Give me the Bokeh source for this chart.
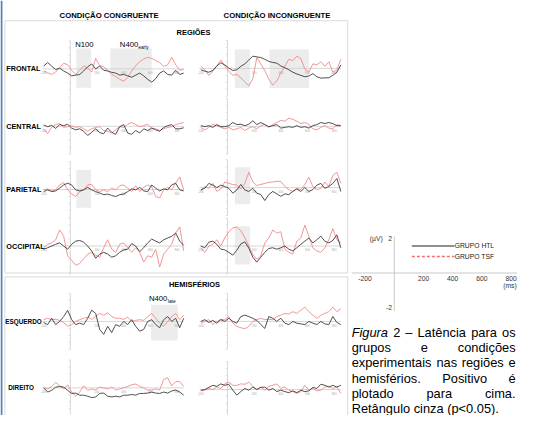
from bokeh.plotting import figure
from bokeh.models import Range1d
from bokeh.core.properties import value
from bokeh.embed import file_html
from bokeh.resources import INLINE

# ---------------- data ----------------
times = [-200, -170, -140, -110, -80, -50, -20, 10, 40, 70, 100, 130, 160, 190, 220, 250, 280, 310,
         340, 370, 400, 430, 460, 490, 520, 550, 580, 610, 640, 670, 700, 730, 760, 790, 820, 850]

frontal_cong_htl = [0.4, 0.9, 0.4, -0.1, 0.1, -0.3, -0.6, -1.0, -0.9, -0.8, -0.3, 0.3, 0.7, 0.0, 0.4, -0.2, -0.3, -0.5,
                    -0.6, -0.9, -0.8, -1.0, -1.2, -0.9, -0.6, -1.0, -1.5, -1.9, -1.4, -0.6, -0.3, -0.8, -0.9, -0.2, -0.8, -0.6]
frontal_cong_tsf = [-0.3, -0.55, -0.8, -0.45, 0.15, 0.8, 0.6, -0.2, -0.8, -0.2, 0.4, 0.15, -0.45, 1.5, 0.45, 0.3, -0.2, -0.8,
                    -1.1, -1.5, -1.75, -1.25, -0.3, 0.45, 1.05, 1.4, 1.65, 1.5, 1.2, 0.9, 0.35, 0.6, 1.65, 0.6, -0.2, -0.1]
frontal_incong_htl = [-0.2, -0.4, -0.55, -0.3, 0.35, 0.8, 0.5, 0.05, -0.3, -0.2, 0.3, 0.65, 1.2, 1.75, 1.65, 1.55, 1.3, 1.0,
                      0.85, 0.75, 0.35, 0.1, -0.2, -0.55, -0.8, -1.0, -1.2, -1.1, -0.75, -1.2, -1.4, -1.35, -1.35, -1.0, -0.55, 0.5]
frontal_incong_tsf = [0.3, -0.2, -1.0, -0.4, 0.35, 1.2, 0.3, -0.4, -1.0, -0.85, -1.35, -1.95, -2.5, -1.5, 1.55, 0.65, -0.3, -1.55,
                      -2.4, -1.8, -0.65, 0.3, 1.3, 1.1, 1.75, 1.4, -0.1, -0.55, 0.65, 0.5, 0.95, 0.3, 0.95, -0.55, -0.2, 1.3]
central_cong_htl = [0.2, -0.05, 0.15, -0.3, 0.25, 0.1, 0.3, -0.25, -0.5, -0.35, -0.7, -1.3, -0.85, -0.35, -0.9, -1.05, -0.25, -0.85,
                    -1.15, -0.05, 0.25, -0.95, -1.15, -0.6, -0.95, -0.35, -0.6, -0.25, -0.5, -0.7, -0.15, 0.1, 0.25, -0.35, -0.35, -0.2]
central_cong_tsf = [-0.35, -1.05, -0.15, 0.25, 0.4, -0.15, -0.05, 0.1, -0.15, -0.05, -0.35, -0.7, -0.35, -0.15, -0.05, -0.6, -0.7, -0.95,
                    -0.5, -0.05, -0.15, 0.3, 0.55, 0.25, -0.05, 0.1, 0.3, -0.25, -0.35, -0.6, -0.35, -0.15, -0.05, 0.25, 0.4, 0.55]
central_incong_htl = [0.1, -0.05, 0.1, -0.15, 0.25, -0.05, -0.05, 0.1, 0.55, 0.25, 0.3, 0.1, 0.3, 0.8, 0.25, 0.55, 0.25, -0.05,
                      0.1, 0.25, -0.25, -0.15, -0.05, -0.15, 0.1, -0.15, -0.05, -0.25, 0.1, 0.25, 0.55, 0.4, 0.55, 0.4, 0.1, 0.1]
central_incong_tsf = [-0.15, -0.5, -0.15, 0.3, 0.1, -0.15, -0.35, -0.15, -0.5, -0.35, -0.15, -0.6, -0.25, -0.05, -0.35, 0.1, 0.3, -0.15,
                      0.25, 0.55, 0.85, 0.75, 1.15, 1.0, 0.75, 0.4, 0.55, 0.3, -0.35, -0.5, -0.15, 0.1, -0.25, -0.35, 0.25, 0.1]
parietal_cong_htl = [-0.3, -0.05, -0.3, -0.2, 0.2, 0.65, 0.9, 0.65, -0.05, -0.2, -0.05, 0.3, -0.05, -0.3, -0.5, -0.75, -0.65, -0.85,
                     -1.0, -0.75, -0.65, -0.3, 0.1, -0.05, 0.3, -0.2, -0.3, 0.65, 0.2, -0.2, 0.1, -0.05, 0.65, 0.9, -0.05, -0.2]
parietal_cong_tsf = [-0.05, 0.1, -0.2, -0.05, 0.65, 1.0, -0.05, -0.65, -1.0, -0.3, -0.05, 0.65, 0.75, -0.05, -0.3, -0.05, -0.3, 0.2,
                     -0.05, 0.55, 0.65, 0.2, -0.3, 0.55, -0.3, 0.3, 0.65, 0.4, -1.0, -1.2, -0.05, 0.3, -0.05, 0.9, 1.8, -0.05]
parietal_incong_htl = [-0.3, -0.1, 0.6, 0.35, 0.0, 0.35, 0.15, -0.1, -0.8, -0.35, 0.45, -0.35, -0.55, -0.1, -0.8, -1.0, -1.85, -1.0,
                       -0.55, -0.9, -1.25, -0.9, -1.0, -0.55, -0.2, -0.55, 0.0, -0.55, -0.3, 0.35, 0.6, -0.1, 0.15, 0.6, 1.3, -0.55]
parietal_incong_tsf = [-0.55, 0.15, -0.1, 0.6, -0.55, -0.2, 0.8, 0.6, 0.45, 0.35, -0.2, 0.6, 2.2, 0.8, 0.3, 0.45, 0.6, 0.75,
                       0.8, 0.9, 0.9, 0.15, -0.3, -0.55, -0.1, -0.3, 0.45, 1.5, 0.15, -0.3, -0.1, 0.8, 0.15, 1.75, 2.2, 0.6]
occipital_cong_htl = [-0.45, -0.25, 0.0, 0.25, 0.45, 0.0, -0.45, 0.25, 0.7, 0.8, 0.55, 0.0, -0.7, -1.75, -1.15, -0.9, -1.15, -1.6,
                      -1.4, -0.9, -0.55, -0.45, 0.35, 0.0, -0.8, -0.25, 0.45, 1.0, 0.7, 0.45, 0.9, 1.15, 1.4, 1.85, 0.7, 0.1]
occipital_cong_tsf = [-0.25, 0.25, 0.45, 0.9, 2.3, 1.4, -1.4, -2.05, -2.75, -2.5, -1.85, -1.15, -0.9, -1.3, -1.6, -0.25, 0.9, -0.45,
                      -0.9, 0.25, 0.45, -0.25, -0.9, -0.25, -0.9, -2.3, -1.4, -1.6, -0.45, -3.0, -1.15, -0.45, 0.25, 1.85, 2.75, -0.7]
occipital_incong_htl = [0.0, -0.25, 0.55, 0.7, 0.25, -0.45, -0.55, -0.9, -1.3, -0.6, 0.3, 0.6, -0.3, -1.6, -2.3, -1.6, -0.9, -0.35,
                        -0.25, -0.45, -0.25, 0.0, -0.45, -0.7, -0.25, 0.25, 0.7, 1.15, 0.45, 0.9, 1.4, 0.7, 0.45, 0.8, 1.6, -0.25]
occipital_incong_tsf = [-0.25, -0.9, 0.0, 0.25, 0.9, 0.0, 1.2, 2.0, 2.6, 2.7, 2.2, 1.2, 0.0, -1.2, -1.9, -1.4, 0.45, 1.15,
                        2.3, 1.85, 2.05, -0.45, -0.9, -1.15, 0.7, 1.15, 3.0, 1.4, -0.25, -0.7, -0.9, -0.25, 0.9, 2.5, 0.9, 0.45]
esquerdo_cong_htl = [-0.15, -0.45, 0.45, -0.45, 0.0, 0.7, 1.6, 0.25, -0.45, -0.25, -0.45, 0.45, 1.6, 1.15, -1.15, -1.85, -0.7, -1.6,
                     -0.45, -0.7, 0.0, -0.45, 0.25, -0.7, -1.4, -1.15, 0.0, 0.25, -0.45, -0.9, 0.25, 0.7, 0.0, 0.45, -0.9, 0.45]
esquerdo_cong_tsf = [0.25, 0.45, 0.25, 0.3, 0.15, -0.15, -0.7, -0.45, 0.0, 0.25, 0.45, 0.6, 0.3, 0.7, 1.15, 0.9, 1.25, 0.7,
                     0.45, 0.45, 0.3, 0.6, 0.0, 0.15, 0.25, 0.15, 0.7, 1.15, 0.45, -0.25, -0.7, 0.0, 0.7, 1.15, 0.25, 0.9]
esquerdo_incong_htl = [0.0, 0.25, -0.15, 0.15, -0.25, 0.25, 0.0, 0.45, 0.0, -0.25, 0.7, 0.9, 0.7, 0.45, 0.15, -0.45, -1.0, 0.7,
                       0.45, 0.0, 0.45, -0.25, -0.45, 0.0, -0.25, -0.35, -0.45, 0.0, -0.25, -0.45, 0.0, -0.35, -0.45, 0.7, -0.15, -0.45]
esquerdo_incong_tsf = [-0.25, 0.0, 0.25, -0.45, 0.0, 0.3, 0.25, 0.7, -0.25, -0.7, -0.9, -1.05, -0.7, 0.0, 0.25, 0.45, 0.25, 0.3,
                       0.25, 0.7, 0.9, 1.15, 1.05, 1.4, 1.15, 1.6, 2.05, 1.4, 0.9, 0.45, 0.9, 1.15, 1.4, 2.05, 1.4, 1.85]
direito_cong_htl = [0.0, -0.6, -0.35, 0.1, 0.2, 0.1, -0.35, -0.8, -0.75, -1.05, -1.05, -1.2, -1.4, -1.3, -0.8, -0.75, -1.2, -1.3,
                    -1.2, -1.3, -1.05, -1.05, -0.95, -1.05, -0.8, -0.8, -0.75, -0.6, -0.75, -0.8, -0.6, -0.75, -0.45, -0.3, -0.6, -1.05]
direito_cong_tsf = [0.0, -0.15, 0.2, 0.8, 0.3, -0.15, 0.45, -0.6, -1.2, -0.6, 0.3, -0.35, -0.15, -0.3, 0.1, 0.0, -0.15, 0.1,
                    -0.3, -0.15, 0.0, 0.2, 0.45, 0.55, 0.2, 0.0, -0.3, -0.3, -0.15, -0.3, 1.2, 1.45, 0.3, 0.9, 0.9, 0.2]
direito_incong_htl = [-0.1, 0.0, 0.3, 0.6, 0.45, 0.8, 0.6, 0.75, -0.1, -0.8, -0.3, 0.15, -0.1, 0.35, 0.0, 0.3, 0.35, -0.1,
                      0.15, -0.3, -0.1, -0.3, -0.45, -0.2, -0.45, -0.1, -0.3, -0.2, 0.3, 0.15, 0.75, 0.6, 0.35, 0.6, 0.35, 0.6]
direito_incong_tsf = [-0.2, -0.1, 0.15, 0.0, 0.35, 0.15, 0.8, 1.05, 0.6, 0.6, 0.8, 0.75, 1.05, 0.45, 0.0, 0.35, -0.1, 0.45,
                      0.6, 0.8, 0.15, 0.35, -0.1, -0.3, -0.55, -0.3, 0.6, -0.1, 0.15, -0.2, -0.1, 0.35, 0.45, 0.15, 0.35, -0.55]

rows = ["frontal", "central", "parietal", "occipital", "esquerdo", "direito"]
row_labels = ["FRONTAL", "CENTRAL", "PARIETAL", "OCCIPITAL", "ESQUERDO", "DIREITO"]
columns = ["cong", "incong"]
column_titles = ["CONDIÇÃO CONGRUENTE", "CONDIÇÃO INCONGRUENTE"]
section_titles = ["REGIÕES", "HEMISFÉRIOS"]
groups = ["GRUPO HTL", "GRUPO TSF"]

# significant windows (grey rectangles)
box_row = ["frontal", "frontal", "frontal", "frontal", "parietal", "parietal", "occipital", "esquerdo"]
box_col = ["cong", "cong", "incong", "incong", "cong", "incong", "incong", "cong"]
box_t0 = [45, 300, 55, 315, 45, 55, 55, 605]
box_t1 = [155, 610, 170, 610, 155, 170, 170, 805]
box_top = [2.9, 2.9, 2.7, 2.7, 2.8, 2.9, 2.85, 2.4]
box_bottom = [-2.7, -2.7, -2.8, -2.8, -2.6, -2.4, -2.65, -2.75]
component_main = ["N100", "N400", "N400"]
component_sub = ["", "early", "late"]

panel_xticks = [-200, 200, 400, 600, 800]
panel_xtick_labels = ["-200", "200", "400", "600", "800"]
panel_yticks = [-4, -3, -2, -1, 1, 2, 3, 4]
legend_xticks = [-200, 200, 400, 600]
legend_xtick_labels = ["-200", "200", "400", "600"]
legend_last_tick_label = "800"
legend_yticks = [2, -2]
legend_ytick_labels = ["2", "-2"]

caption_lines = [["Figura", "2", "–", "Latência", "para", "os"],
                 ["grupos", "e", "condições"],
                 ["experimentais", "nas", "regiões", "e"],
                 ["hemisférios.", "Positivo", "é"],
                 ["plotado", "para", "cima."],
                 ["Retângulo cinza (p<0.05)."]]

series = {
    ("frontal", "cong"): (frontal_cong_htl, frontal_cong_tsf),
    ("frontal", "incong"): (frontal_incong_htl, frontal_incong_tsf),
    ("central", "cong"): (central_cong_htl, central_cong_tsf),
    ("central", "incong"): (central_incong_htl, central_incong_tsf),
    ("parietal", "cong"): (parietal_cong_htl, parietal_cong_tsf),
    ("parietal", "incong"): (parietal_incong_htl, parietal_incong_tsf),
    ("occipital", "cong"): (occipital_cong_htl, occipital_cong_tsf),
    ("occipital", "incong"): (occipital_incong_htl, occipital_incong_tsf),
    ("esquerdo", "cong"): (esquerdo_cong_htl, esquerdo_cong_tsf),
    ("esquerdo", "incong"): (esquerdo_incong_htl, esquerdo_incong_tsf),
    ("direito", "cong"): (direito_cong_htl, direito_cong_tsf),
    ("direito", "incong"): (direito_incong_htl, direito_incong_tsf),
}

# ---------------- layout (reference pixel units) ----------------
REF_W, REF_H = 533, 431
W, H = 517, 415
FS = 0.965
FONT = "Liberation Sans"
HTL_COLOR = "#3c3c3c"
TSF_COLOR = "#f28a8a"
AXIS_COLOR = "#cdcdcd"
BOX_COLOR = "#ececec"

col_x0 = {"cong": 72.0, "incong": 234.0}
KX = 0.1375
KY = 7.25
row_y0 = {
    "frontal": {"cong": 71.0, "incong": 70.5},
    "central": {"cong": 130.7, "incong": 130.7},
    "parietal": {"cong": 196.3, "incong": 194.3},
    "occipital": {"cong": 255.0, "incong": 255.0},
    "esquerdo": {"cong": 333.3, "incong": 333.3},
    "direito": {"cong": 402.3, "incong": 404.0},
}
LEG_X0, LEG_KX, LEG_Y0, LEG_KY = 406.0, 0.1505, 283.0, 18.0

p = figure(width=W, height=H, x_range=Range1d(0, REF_W), y_range=Range1d(REF_H, 0),
           output_backend="svg", toolbar_location=None, x_axis_type=None, y_axis_type=None,
           min_border=0)
p.outline_line_color = None
p.background_fill_color = "white"
p.border_fill_color = "white"
p.grid.visible = False

xr = {}
yr = {}
for c in columns:
    x0 = col_x0[c]
    xr["t_" + c] = Range1d((0 - x0) / KX, (REF_W - x0) / KX)
for r in rows:
    for c in columns:
        y0 = row_y0[r][c]
        yr["v_%s_%s" % (r, c)] = Range1d((y0 - REF_H) / KY, y0 / KY)
xr["t_leg"] = Range1d((0 - LEG_X0) / LEG_KX, (REF_W - LEG_X0) / LEG_KX)
yr["v_leg"] = Range1d((LEG_Y0 - REF_H) / LEG_KY, LEG_Y0 / LEG_KY)
p.extra_x_ranges = xr
p.extra_y_ranges = yr


def fs(px):
    return "%.2fpx" % (px * FS)


def txt(x, y, s, size, style="normal", align="left", baseline="middle", color="black",
        xn="default", yn="default"):
    p.text(x=x if isinstance(x, list) else [x], y=y if isinstance(y, list) else [y],
           text=s if isinstance(s, list) else [s],
           text_font=value(FONT), text_font_size=fs(size), text_font_style=style,
           text_align=align, text_baseline=baseline, text_color=color,
           x_range_name=xn, y_range_name=yn)


# left blue stripe and section frames
p.quad(left=[0], right=[2], top=[0], bottom=[REF_H], fill_color="#4f81bd", line_color=None)
p.quad(left=[4.5], right=[358], top=[21], bottom=[283], fill_color=None, line_color="#dadada", line_width=1)
p.quad(left=[4.5], right=[358], top=[287], bottom=[440], fill_color=None, line_color="#dadada", line_width=1)

# titles
txt(112, 16, column_titles[0], 8, "bold", "center")
txt(285, 16, column_titles[1], 8, "bold", "center")
txt(199, 33, section_titles[0], 7.7, "bold", "center")
txt(200, 295, section_titles[1], 7.7, "bold", "center")

# grey windows
for i in range(len(box_t0)):
    r, c = box_row[i], box_col[i]
    p.quad(left=[box_t0[i]], right=[box_t1[i]], top=[box_top[i]], bottom=[box_bottom[i]],
           fill_color=BOX_COLOR, line_color=None,
           x_range_name="t_" + c, y_range_name="v_%s_%s" % (r, c))

# panels
for ri, r in enumerate(rows):
    for c in columns:
        xn, yn = "t_" + c, "v_%s_%s" % (r, c)
        p.segment(x0=[-210], y0=[0], x1=[850], y1=[0], line_color=AXIS_COLOR, line_width=0.8,
                  x_range_name=xn, y_range_name=yn)
        p.segment(x0=[0], y0=[-4], x1=[0], y1=[4], line_color=AXIS_COLOR, line_width=0.8,
                  x_range_name=xn, y_range_name=yn)
        p.segment(x0=[-14] * len(panel_yticks), y0=panel_yticks, x1=[0] * len(panel_yticks), y1=panel_yticks,
                  line_color=AXIS_COLOR, line_width=0.6, x_range_name=xn, y_range_name=yn)
        txt(panel_xticks, [-0.5] * len(panel_xticks), panel_xtick_labels, 3, "normal", "center", "middle",
            "#a8a8a8", xn, yn)
        htl, tsf = series[(r, c)]
        p.line(times, tsf, line_color=TSF_COLOR, line_width=0.9, line_join="round",
               x_range_name=xn, y_range_name=yn)
        p.line(times, htl, line_color=HTL_COLOR, line_width=0.9, line_join="round",
               x_range_name=xn, y_range_name=yn)
    size = 7.5 if ri < 4 else 6.6
    left = 8 if r == "direito" else (5 if r == "esquerdo" else 6)
    txt(left, row_y0[r]["cong"], row_labels[ri], size, "bold", "left")

# component labels
txt(77, 46, component_main[0], 8)
txt(123, 46, component_main[1], 8)
txt(142, 48.5, component_sub[1], 5)
txt(153, 310, component_main[2], 8)
txt(172.5, 312.5, component_sub[2], 5)

# legend / scale panel
p.segment(x0=[0], y0=[-2.2], x1=[0], y1=[2.1], line_color="#bdbdbd", line_width=0.8,
          x_range_name="t_leg", y_range_name="v_leg")
p.segment(x0=[-292], y0=[0], x1=[900], y1=[0], line_color="#bdbdbd", line_width=0.8,
          x_range_name="t_leg", y_range_name="v_leg")
txt(legend_xticks, [-0.3] * len(legend_xticks), legend_xtick_labels, 7, "normal", "center", "middle",
    "#333333", "t_leg", "v_leg")
txt(838, -0.3, legend_last_tick_label, 7, "normal", "right", "middle", "#333333", "t_leg", "v_leg")
txt([-15] * len(legend_yticks), legend_yticks, legend_ytick_labels, 7, "normal", "right", "middle",
    "#333333", "t_leg", "v_leg")
txt(-80, 2.0, "(µV)", 7, "normal", "right", "middle", "#333333", "t_leg", "v_leg")
txt(838, -0.75, "(ms)", 7, "normal", "right", "middle", "#333333", "t_leg", "v_leg")
p.line([120, 412], [1.56, 1.56], line_color="#222222", line_width=1.1, x_range_name="t_leg", y_range_name="v_leg")
p.line([120, 412], [0.95, 0.95], line_color="#f26f6f", line_width=1.6, line_dash="3 2",
       x_range_name="t_leg", y_range_name="v_leg")
txt(414, 1.56, groups[0], 7, "normal", "left", "middle", "#222222", "t_leg", "v_leg")
txt(414, 0.95, groups[1], 7, "normal", "left", "middle", "#222222", "t_leg", "v_leg")

# caption (justified)
CW = {' ': 278, '(': 333, ')': 333, '.': 278, '0': 556, '2': 556, '5': 556, '<': 584, '–': 556,
      'F': 611, 'L': 556, 'P': 667, 'R': 722, 'a': 556, 'c': 500, 'd': 556, 'e': 556, 'f': 278,
      'g': 556, 'h': 556, 'i': 222, 'l': 222, 'm': 833, 'n': 556, 'o': 556, 'p': 556, 'r': 333,
      's': 500, 't': 278, 'u': 556, 'v': 500, 'x': 500, 'z': 500, 'ç': 500, 'ê': 556, 'é': 556,
      'â': 556, 'õ': 556}
CAP_SIZE = 13.3
CAP_L, CAP_R = 362.0, 531.0
CAP_Y0, CAP_DY = 344.5, 15.9


def width(s):
    return sum(CW.get(ch, 556) for ch in s) * CAP_SIZE / 1000.0


for li, words in enumerate(caption_lines):
    y = CAP_Y0 + li * CAP_DY
    if len(words) == 1:
        txt(CAP_L, y, words[0], CAP_SIZE, "normal", "left", "alphabetic")
        continue
    total = sum(width(w) for w in words)
    gap = (CAP_R - CAP_L - total) / (len(words) - 1)
    x = CAP_L
    for wi, w in enumerate(words):
        style = "italic" if (li == 0 and wi == 0) else "normal"
        if wi == len(words) - 1:
            txt(CAP_R, y, w, CAP_SIZE, style, "right", "alphabetic")
        else:
            txt(x, y, w, CAP_SIZE, style, "left", "alphabetic")
        x += width(w) + gap

open("out.html", "w").write(file_html(p, INLINE))
